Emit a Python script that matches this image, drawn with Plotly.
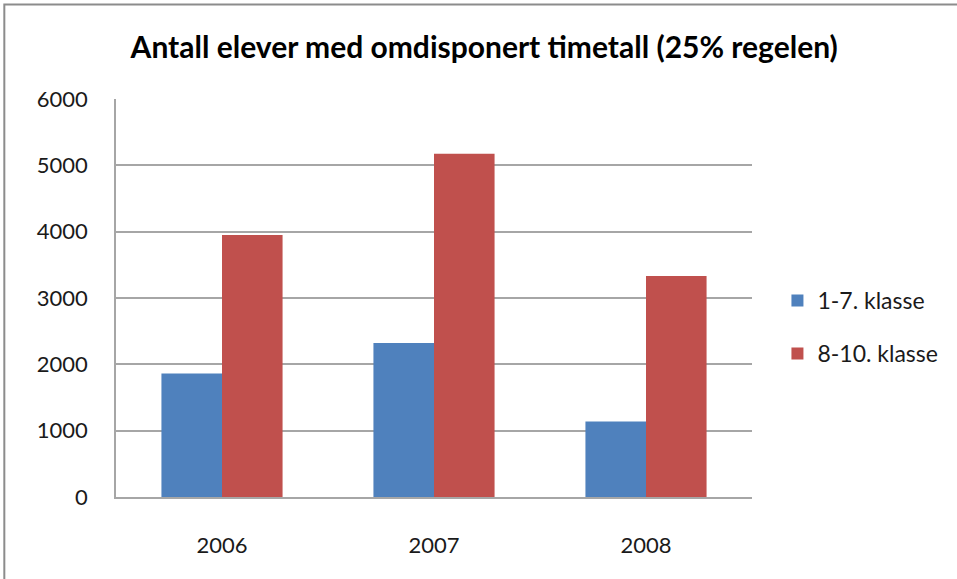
import plotly.graph_objects as go

years = ["2006", "2007", "2008"]
klasse_1_7 = [1860, 2320, 1140]
klasse_8_10 = [3950, 5175, 3330]
y_ticks = [0, 1000, 2000, 3000, 4000, 5000, 6000]

FONT = "Lato"

fig = go.Figure()

fig.add_trace(
    go.Bar(
        x=years,
        y=klasse_1_7,
        name="1-7. klasse",
        marker=dict(color="#4F81BD", line=dict(width=0)),
        legendgroup="a",
    )
)
fig.add_trace(
    go.Bar(
        x=years,
        y=klasse_8_10,
        name="8-10. klasse",
        marker=dict(color="#C0504D", line=dict(width=0)),
        legendgroup="b",
    )
)

fig.update_layout(
    width=957,
    height=579,
    margin={"l": 116, "r": 205, "b": 82, "t": 99},
    paper_bgcolor="white",
    plot_bgcolor="white",
    barmode="group",
    bargap=0.4286,
    bargroupgap=0,
    font=dict(family=FONT, size=22, color="#1a1a1a"),
    title=dict(
        text="<b>Antall elever med omdisponert timetall (25% regelen)</b>",
        x=0.506,
        xref="container",
        xanchor="center",
        y=1 - 47 / 579,
        yref="container",
        yanchor="middle",
        font=dict(family=FONT, size=30, color="black"),
    ),
    legend=dict(
        x=1.04,
        y=0.427,
        xanchor="left",
        yanchor="middle",
        traceorder="grouped",
        tracegroupgap=20,
        itemwidth=30,
        font=dict(family=FONT, size=23, color="#1a1a1a"),
        bgcolor="rgba(0,0,0,0)",
    ),
    xaxis=dict(
        showgrid=False,
        showline=True,
        linecolor="#a6a6a6",
        linewidth=1.5,
        ticks="",
        ticklabelstandoff=28,
    ),
    yaxis=dict(
        range=[0, 6000],
        tickvals=y_ticks,
        showgrid=True,
        gridcolor="#a6a6a6",
        gridwidth=1.5,
        showline=True,
        linecolor="#a6a6a6",
        linewidth=1.5,
        ticks="",
        ticklabelstandoff=22,
        zeroline=False,
    ),
)

# outer chart border, only left and top are visible in the crop
fig.add_shape(
    type="rect",
    xref="paper",
    yref="paper",
    x0=-0.1756,
    x1=2,
    y0=-1,
    y1=1.2376,
    line=dict(color="#8c8c8c", width=2),
    fillcolor="rgba(0,0,0,0)",
    layer="below",
)

fig.write_html(
    "out.html",
    config={"displayModeBar": False},
    post_script="document.body.style.margin='0';",
)
